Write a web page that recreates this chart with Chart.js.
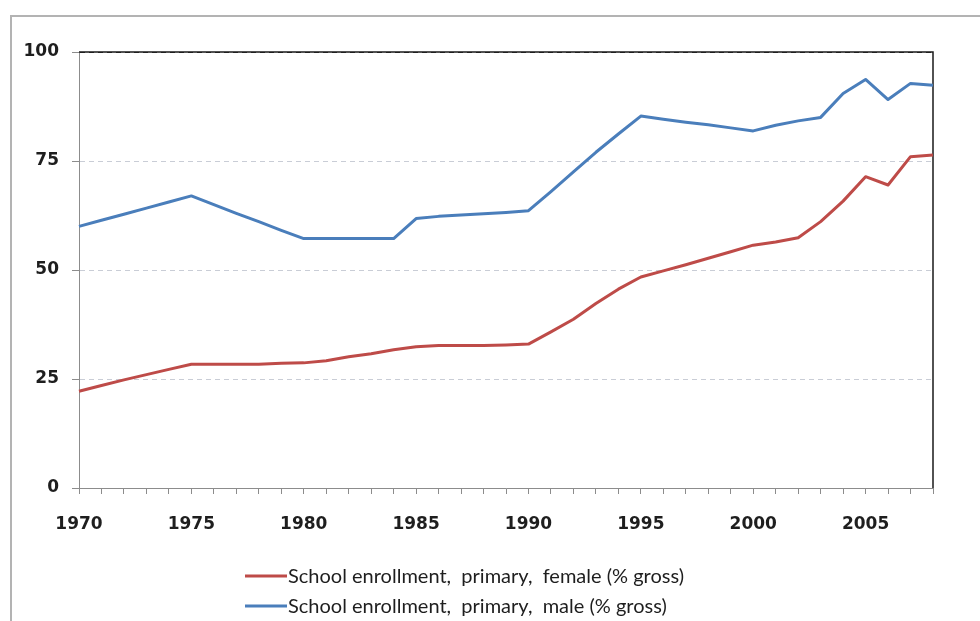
<!DOCTYPE html>
<html>
<head>
<meta charset="utf-8">
<script src="https://cdn.jsdelivr.net/npm/chart.js@4/dist/chart.umd.min.js"></script>
<style>
    html, body { margin: 0; padding: 0; background: #fff; overflow: hidden; }
    #moldura { position: absolute; left: 10px; top: 15px; width: 1000px; height: 700px; border: 2px solid #b3b3b3; }
    #grafico { position: absolute; left: 0; top: 0; }
</style>
</head>
<body>
<div id="moldura"></div>
<canvas id="grafico" width="980" height="621"></canvas>
<script>
// Matrícula escolar primária (% bruta), 1970–2008
const anos = [
    1970, 1971, 1972, 1973, 1974, 1975, 1976, 1977, 1978, 1979,
    1980, 1981, 1982, 1983, 1984, 1985, 1986, 1987, 1988, 1989,
    1990, 1991, 1992, 1993, 1994, 1995, 1996, 1997, 1998, 1999,
    2000, 2001, 2002, 2003, 2004, 2005, 2006, 2007, 2008,
];
const feminino = [
    22.2, 23.5, 24.8, 26.0, 27.2, 28.4, 28.4, 28.4, 28.4, 28.6,
    28.7, 29.2, 30.1, 30.8, 31.7, 32.4, 32.7, 32.7, 32.7, 32.8,
    33.0, 35.8, 38.7, 42.3, 45.6, 48.4, 49.8, 51.2, 52.7, 54.2,
    55.7, 56.4, 57.4, 61.1, 65.8, 71.4, 69.5, 76.0, 76.4,
];
const masculino = [
    60.0, 61.4, 62.8, 64.2, 65.6, 67.0, 65.0, 63.0, 61.1, 59.1,
    57.2, 57.2, 57.2, 57.2, 57.2, 61.8, 62.3, 62.6, 62.9, 63.2,
    63.6, 68.0, 72.5, 77.0, 81.2, 85.3, 84.6, 83.9, 83.3, 82.6,
    81.9, 83.2, 84.2, 85.0, 90.5, 93.7, 89.1, 92.8, 92.4,
];
const ticksY = [0, 25, 50, 75, 100];
const rotulos = [
    'School enrollment,  primary,  female (% gross)',
    'School enrollment,  primary,  male (% gross)',
];

const fonteEixo = { family: 'DejaVu Sans', size: 17, weight: 'bold' };

// Borda preta no topo e à direita da área do gráfico.
const bordaArea = {
    id: 'bordaArea',
    beforeDatasetsDraw(chart) {
        const { ctx, chartArea: a } = chart;
        ctx.save();
        ctx.strokeStyle = '#1a1a1a';
        ctx.lineWidth = 1.5;
        ctx.beginPath();
        ctx.moveTo(a.left, a.top);
        ctx.lineTo(a.right, a.top);
        ctx.lineTo(a.right, a.bottom);
        ctx.stroke();
        ctx.restore();
    },
};

// Legenda em duas linhas abaixo do eixo x.
const legendaManual = {
    id: 'legendaManual',
    afterDraw(chart) {
        const { ctx } = chart;
        ctx.save();
        ctx.font = '20px Lato';
        ctx.textBaseline = 'middle';
        ctx.fillStyle = '#1e1e1e';
        chart.data.datasets.forEach((ds, i) => {
            const y = 576 + i * 30;
            ctx.strokeStyle = ds.borderColor;
            ctx.lineWidth = 3;
            ctx.beginPath();
            ctx.moveTo(245, y);
            ctx.lineTo(287, y);
            ctx.stroke();
            ctx.fillText(ds.label, 288, y + 1);
        });
        ctx.restore();
    },
};

new Chart(document.getElementById('grafico'), {
    type: 'line',
    data: {
        labels: anos,
        datasets: [
            { label: rotulos[0], data: feminino, borderColor: '#be4b48', borderWidth: 3 },
            { label: rotulos[1], data: masculino, borderColor: '#4a7ebb', borderWidth: 3 },
        ],
    },
    options: {
        responsive: false,
        animation: false,
        devicePixelRatio: 1,
        layout: { padding: { left: 0, top: 52, right: 47, bottom: 0 } },
        elements: {
            point: { radius: 0 },
            line: { tension: 0, borderJoinStyle: 'round' },
        },
        clip: false,
        plugins: {
            legend: { display: false },
            tooltip: { enabled: false },
        },
        scales: {
            x: {
                offset: false,
                afterFit: (s) => { s.height = 133; },
                border: { color: '#8c8c8c', width: 1 },
                grid: { drawOnChartArea: false, drawTicks: true, tickLength: 6, color: '#8c8c8c' },
                ticks: {
                    autoSkip: false,
                    maxRotation: 0,
                    padding: 20,
                    color: '#1e1e1e',
                    font: fonteEixo,
                    callback: (v, i) => (anos[i] % 5 === 0 ? anos[i] : ''),
                },
            },
            y: {
                min: 0,
                max: 100,
                afterFit: (s) => { s.width = 79; },
                afterBuildTicks: (s) => { s.ticks = ticksY.map((v) => ({ value: v })); },
                // no v4, border.dash é o tracejado das linhas de grade
                border: { color: '#8c8c8c', width: 1, dash: [5, 4] },
                grid: {
                    color: (c) => (c.tick && c.tick.value === 100 ? '#333' : '#c9cdd6'),
                    tickColor: '#8c8c8c',
                    tickLength: 7,
                    tickBorderDash: [],
                },
                ticks: { padding: 13, color: '#1e1e1e', font: fonteEixo },
            },
        },
    },
    plugins: [bordaArea, legendaManual],
});
</script>
</body>
</html>
